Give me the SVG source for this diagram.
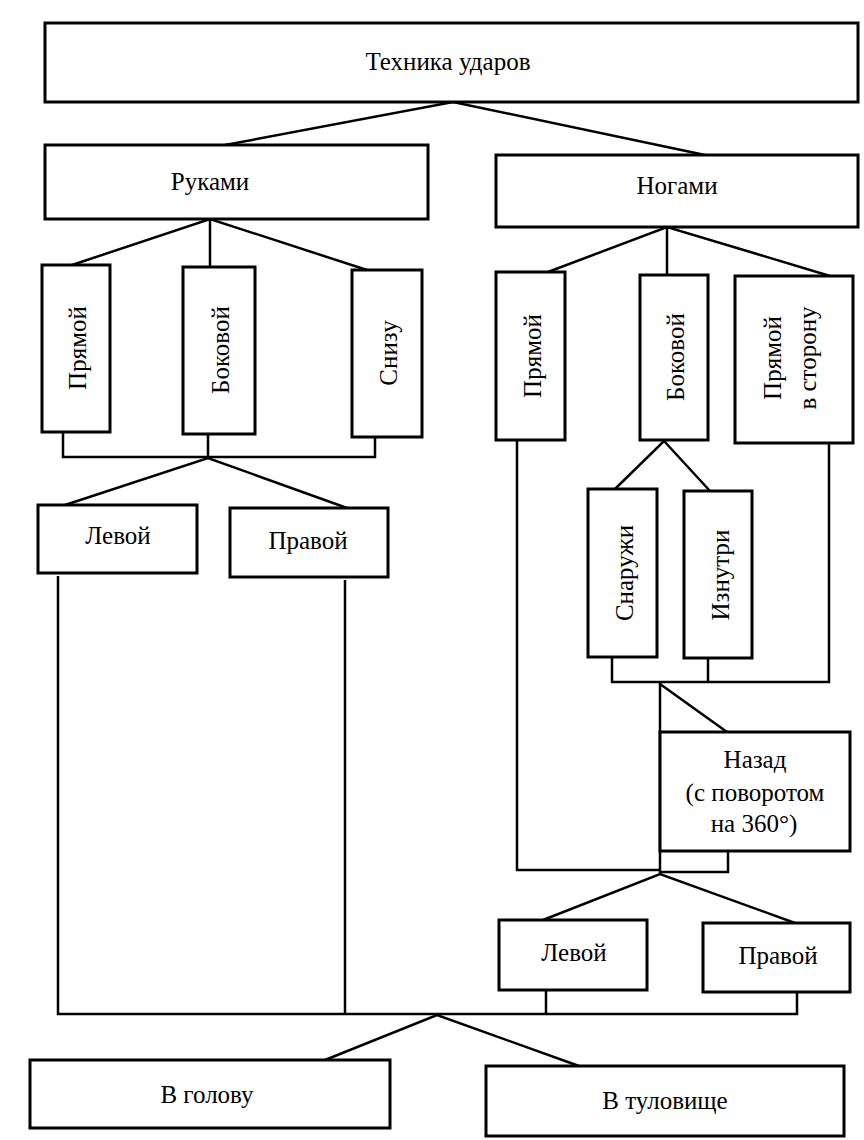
<svg xmlns="http://www.w3.org/2000/svg" width="864" height="1140" viewBox="0 0 864 1140">
<style>
.box{fill:#fff;stroke:#000;stroke-width:3}
.lbl{font-family:"Liberation Serif","Times New Roman",serif;font-size:25px;fill:#000;text-anchor:middle;dominant-baseline:central}
.con{fill:none;stroke:#000;stroke-width:2.5;stroke-linejoin:miter}
</style>
<rect width="864" height="1140" fill="#fff"/>
<g id="connectors">
<polyline class="con" points="225,145 453,102 705,155"/>
<polyline class="con" points="72,265 210,219 367,270"/>
<line class="con" x1="210" y1="219" x2="210" y2="267"/>
<polyline class="con" points="548,272 667,227 830,276"/>
<line class="con" x1="667" y1="227" x2="667" y2="275"/>
<polyline class="con" points="63,432 63,457 375,457 375,437"/>
<line class="con" x1="208" y1="434" x2="208" y2="457"/>
<polyline class="con" points="65,505 208,458 347,508"/>
<polyline class="con" points="615,489 664,441 710,491"/>
<polyline class="con" points="612,657 612,682 829,682 829,443"/>
<line class="con" x1="708" y1="658" x2="708" y2="682"/>
<line class="con" x1="660" y1="682" x2="660" y2="874"/>
<line class="con" x1="660" y1="684" x2="727" y2="732"/>
<polyline class="con" points="517,440 517,870 660,870"/>
<polyline class="con" points="728,851 728,872 660,872"/>
<polyline class="con" points="543,920 660,874 795,923"/>
<polyline class="con" points="58,576 58,1014 797,1014 797,992"/>
<line class="con" x1="345" y1="580" x2="345" y2="1014"/>
<line class="con" x1="546" y1="990" x2="546" y2="1014"/>
<polyline class="con" points="325,1060 437,1015 579,1066"/>
</g>
<g id="n-tekhnika"><rect class="box" x="45" y="23" width="813" height="79"/><text class="lbl" x="448" y="61">Техника ударов</text></g>
<g id="n-rukami"><rect class="box" x="45" y="145" width="383" height="74"/><text class="lbl" x="210" y="181">Руками</text></g>
<g id="n-nogami"><rect class="box" x="496" y="155" width="362" height="72"/><text class="lbl" x="677" y="185">Ногами</text></g>
<g id="n-r-pryamoi"><rect class="box" x="42" y="265" width="68" height="167"/><text class="lbl" x="77" y="348" transform="rotate(-90 77 348)">Прямой</text></g>
<g id="n-r-bokovoi"><rect class="box" x="183" y="267" width="72" height="167"/><text class="lbl" x="220" y="350" transform="rotate(-90 220 350)">Боковой</text></g>
<g id="n-r-snizu"><rect class="box" x="352" y="270" width="70" height="167"/><text class="lbl" x="388" y="353" transform="rotate(-90 388 353)">Снизу</text></g>
<g id="n-r-levoi"><rect class="box" x="38" y="505" width="159" height="68"/><text class="lbl" x="118" y="535">Левой</text></g>
<g id="n-r-pravoi"><rect class="box" x="230" y="508" width="158" height="69"/><text class="lbl" x="308" y="540">Правой</text></g>
<g id="n-n-pryamoi"><rect class="box" x="496" y="272" width="69" height="168"/><text class="lbl" x="532" y="356" transform="rotate(-90 532 356)">Прямой</text></g>
<g id="n-n-bokovoi"><rect class="box" x="640" y="275" width="68" height="165"/><text class="lbl" x="675" y="357" transform="rotate(-90 675 357)">Боковой</text></g>
<g id="n-n-storonu"><rect class="box" x="735" y="276" width="118" height="167"/><text class="lbl" x="772" y="358" transform="rotate(-90 772 358)">Прямой</text><text class="lbl" x="807" y="358" transform="rotate(-90 807 358)">в сторону</text></g>
<g id="n-snaruzhi"><rect class="box" x="588" y="489" width="69" height="168"/><text class="lbl" x="624" y="573" transform="rotate(-90 624 573)">Снаружи</text></g>
<g id="n-iznutri"><rect class="box" x="684" y="491" width="68" height="167"/><text class="lbl" x="720" y="575" transform="rotate(-90 720 575)">Изнутри</text></g>
<g id="n-nazad"><rect class="box" x="660" y="732" width="190" height="119"/><text class="lbl" x="755" y="759">Назад</text><text class="lbl" x="755" y="792">(с поворотом</text><text class="lbl" x="754" y="823">на 360°)</text></g>
<g id="n-n-levoi"><rect class="box" x="499" y="920" width="148" height="70"/><text class="lbl" x="574" y="952">Левой</text></g>
<g id="n-n-pravoi"><rect class="box" x="703" y="923" width="147" height="69"/><text class="lbl" x="778" y="955">Правой</text></g>
<g id="n-golova"><rect class="box" x="30" y="1060" width="360" height="68"/><text class="lbl" x="207" y="1094">В голову</text></g>
<g id="n-tulovishche"><rect class="box" x="486" y="1066" width="358" height="70"/><text class="lbl" x="665" y="1100">В туловище</text></g>
</svg>
